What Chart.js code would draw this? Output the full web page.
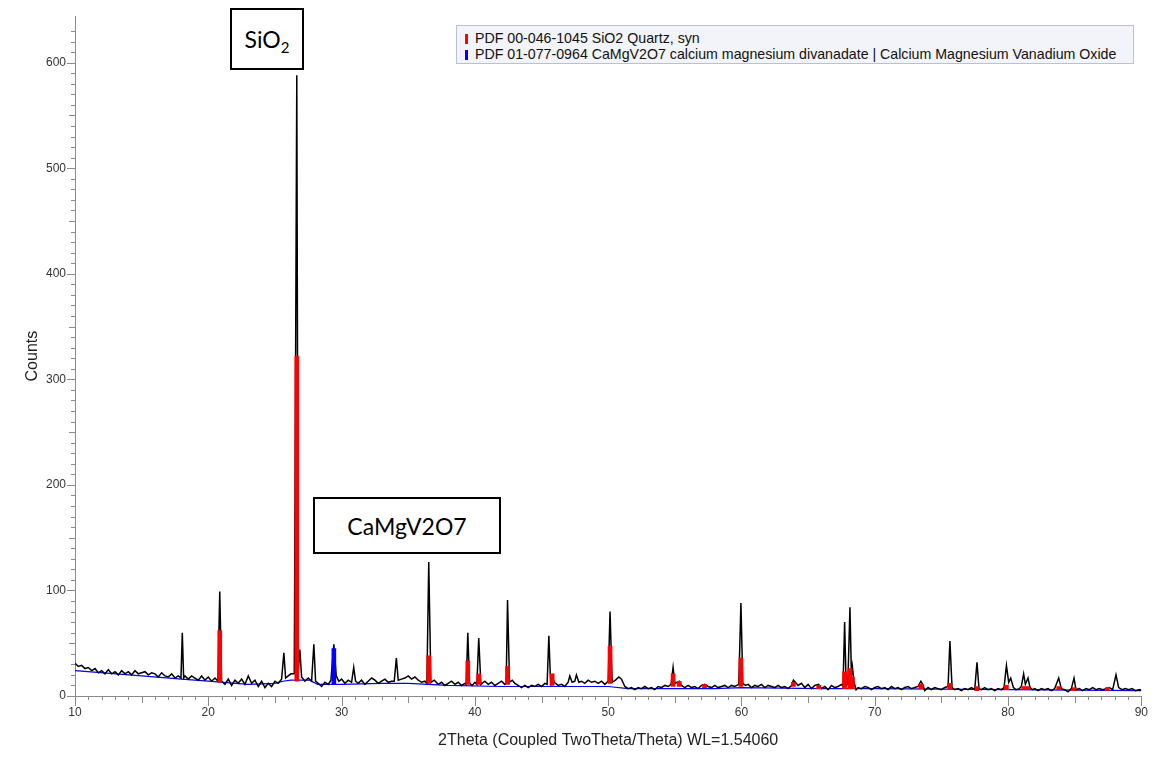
<!DOCTYPE html>
<html>
<head>
<meta charset="utf-8">
<title>XRD pattern</title>
<script src="https://cdn.jsdelivr.net/npm/chart.js@4.4.1/dist/chart.umd.min.js"></script>
<style>
  html, body { margin: 0; padding: 0; background: #fff; }
  #wrap { position: relative; width: 1157px; height: 774px; overflow: hidden;
          font-family: "Liberation Sans", Arial, sans-serif; }
  #xrd { position: absolute; left: 0; top: 0; }
  .phase-legend { position: absolute; left: 456px; top: 25px; width: 678px; height: 39px;
                  box-sizing: border-box; border: 1px solid #b7c1d8; background: #f3f4f9; }
  .phase-legend .row { position: absolute; left: 8px; height: 15px; font-size: 14.2px;
                       line-height: 15px; color: #111; white-space: nowrap; }
  .phase-legend .swatch { display: inline-block; width: 3px; height: 10px; margin-right: 7px;
                          vertical-align: -1px; }
  .callout { position: absolute; box-sizing: border-box; border: 2px solid #000; background: #fff;
             color: #000; font-family: Lato, "Open Sans", sans-serif; font-size: 23px;
             display: flex; align-items: center; justify-content: center; }
  .callout sub { font-size: 15px; vertical-align: -5px; line-height: 0; }
</style>
</head>
<body>
<div id="wrap">
  <canvas id="xrd" width="1157" height="774"></canvas>
  <div class="phase-legend" id="phaseLegend"></div>
  <div class="callout" style="left:230px; top:8px; width:74px; height:62px;"><span>SiO<sub>2</sub></span></div>
  <div class="callout" style="left:313px; top:497px; width:188px; height:57px;"><span>CaMgV2O7</span></div>
</div>
<script>
// Measured scan: [2θ (deg), counts]
const measured = [
  [10.00,31],[10.25,28],[10.50,29],[10.75,26],[11.00,27],[11.25,24],[11.50,26],[11.75,22],
  [12.00,24],[12.25,21],[12.50,25],[12.75,21],[13.00,23],[13.25,20],[13.50,24],[13.75,21],
  [14.00,23],[14.25,20],[14.50,24],[14.75,21],[15.00,22],[15.25,23],[15.50,20],[15.75,22],
  [16.00,21],[16.25,18],[16.50,22],[16.75,19],[17.00,18],[17.25,21],[17.50,17],[17.75,19],
  [17.95,17],[18.05,60],[18.15,17],[18.25,19],[18.50,16],[18.75,19],[19.00,17],[19.25,15],
  [19.50,19],[19.75,15],[20.00,18],[20.25,14],[20.50,17],[20.72,14],[20.86,99],[21.00,14],
  [21.25,11],[21.50,16],[21.75,10],[22.00,15],[22.25,12],[22.50,16],[22.75,11],[23.00,19],
  [23.25,12],[23.50,15],[23.75,9],[24.00,14],[24.25,8],[24.50,12],[24.75,9],[25.00,14],
  [25.25,12],[25.50,16],[25.67,41],[25.80,17],[26.00,19],[26.20,21],[26.45,21],[26.64,588],
  [26.75,23],[26.87,44],[27.00,18],[27.25,14],[27.50,17],[27.75,14],[27.92,49],[28.05,14],
  [28.25,12],[28.50,9],[28.75,13],[29.00,11],[29.20,15],[29.42,49],[29.60,19],[29.80,14],
  [30.00,16],[30.25,12],[30.50,15],[30.75,13],[30.91,27],[31.05,14],[31.25,12],[31.50,15],
  [31.75,11],[32.00,14],[32.25,17],[32.50,15],[32.75,12],[33.00,14],[33.25,16],[33.50,13],
  [33.75,14],[33.95,14],[34.11,36],[34.25,15],[34.50,16],[34.75,17],[35.00,19],[35.25,16],
  [35.50,18],[35.75,15],[36.00,13],[36.25,14],[36.40,12],[36.54,127],[36.70,13],[36.95,15],
  [37.25,11],[37.50,13],[37.75,10],[38.00,12],[38.25,14],[38.50,11],[38.75,13],[39.00,10],
  [39.25,12],[39.35,11],[39.47,60],[39.60,12],[39.80,10],[40.00,13],[40.15,11],[40.29,55],
  [40.45,11],[40.75,14],[41.00,11],[41.25,13],[41.50,10],[41.75,12],[42.00,14],[42.25,11],
  [42.35,12],[42.45,91],[42.60,13],[42.80,15],[43.00,12],[43.25,10],[43.50,8],[43.75,10],
  [44.00,8],[44.25,10],[44.50,9],[44.75,11],[45.00,9],[45.25,12],[45.42,11],[45.55,57],
  [45.68,13],[45.80,19],[45.95,13],[46.25,10],[46.50,11],[46.75,9],[47.00,13],[47.12,19],
  [47.30,13],[47.50,14],[47.62,20],[47.80,13],[48.00,14],[48.25,12],[48.50,15],[48.75,13],
  [49.00,14],[49.25,12],[49.50,14],[49.75,11],[50.00,14],[50.14,80],[50.30,13],[50.55,15],
  [50.80,18],[51.00,16],[51.25,9],[51.50,7],[51.75,8],[52.00,6],[52.25,8],[52.50,7],
  [52.75,9],[53.00,7],[53.25,8],[53.50,6],[53.75,9],[54.00,8],[54.25,10],[54.50,9],
  [54.72,11],[54.87,27],[55.00,12],[55.33,14],[55.50,10],[55.75,8],[56.00,10],[56.25,8],
  [56.50,9],[56.75,7],[57.00,10],[57.25,11],[57.50,9],[57.75,8],[58.00,10],[58.25,8],
  [58.50,9],[58.75,10],[59.00,8],[59.25,10],[59.50,9],[59.80,11],[59.96,88],[60.10,12],
  [60.30,10],[60.50,11],[60.75,8],[61.00,10],[61.25,9],[61.50,11],[61.75,8],[62.00,10],
  [62.25,9],[62.50,8],[62.75,10],[63.00,8],[63.25,9],[63.50,7],[63.75,10],[63.90,15],
  [64.05,13],[64.25,10],[64.50,12],[64.75,8],[65.00,11],[65.25,7],[65.50,10],[65.79,11],
  [66.00,7],[66.25,9],[66.50,6],[66.75,10],[67.00,8],[67.25,9],[67.50,11],[67.62,9],
  [67.74,70],[67.85,12],[67.98,11],[68.14,84],[68.25,19],[68.32,28],[68.45,13],[68.60,6],
  [68.75,8],[69.00,7],[69.25,9],[69.50,8],[69.75,6],[70.00,8],[70.25,9],[70.50,7],
  [70.75,8],[71.00,6],[71.25,9],[71.50,7],[71.75,8],[72.00,6],[72.25,8],[72.50,9],
  [72.75,7],[73.00,8],[73.25,9],[73.46,14],[73.60,11],[73.75,5],[74.00,8],[74.25,6],
  [74.50,8],[74.75,7],[75.00,6],[75.25,8],[75.50,9],[75.64,52],[75.80,8],[76.00,6],
  [76.25,7],[76.50,5],[76.75,7],[77.00,6],[77.25,8],[77.50,6],[77.67,32],[77.82,7],
  [78.00,6],[78.25,8],[78.50,6],[78.75,7],[79.00,5],[79.25,7],[79.50,6],[79.70,8],
  [79.88,29],[80.05,13],[80.20,17],[80.40,8],[80.60,6],[80.85,7],[81.00,9],[81.17,21],
  [81.30,11],[81.50,17],[81.65,8],[81.85,6],[82.00,7],[82.25,5],[82.50,7],[82.75,6],
  [83.00,7],[83.25,5],[83.50,7],[83.80,17],[84.00,7],[84.25,6],[84.50,4],[84.75,7],
  [84.95,17],[85.10,6],[85.35,7],[85.60,5],[85.85,7],[86.10,6],[86.35,8],[86.60,6],
  [86.85,7],[87.10,6],[87.35,7],[87.60,8],[87.85,6],[88.10,20],[88.30,8],[88.55,6],
  [88.80,7],[89.05,6],[89.30,7],[89.55,5],[89.80,6],[90.00,6]
];

// Fitted background under the scan: [2θ, counts]
const backgroundCurve = [
  [10,24],[15,19],[18,16],[20,14],[23,11],[25,12],[25.6,14],[26.2,15],[27.6,15],[28.2,11],
  [30,11],[33,12],[35,12],[38,10],[42,9],[46,9],[50,9],[51.5,7],[58,7],[60,8],[66,7],
  [70,7],[80,6],[90,5]
];

// Reference stick patterns: [2θ, stick base, stick top]
const quartzSticks = [
  [20.86,13,62],[26.64,14,322],[36.54,12,38],[39.47,11,33],[40.29,11,21],[42.45,11,28],
  [45.80,10,21],[50.14,12,47],[54.87,9,21],[55.33,9,14],[57.23,8,11],[59.96,9,36],
  [63.90,9,13],[65.79,7,10],[67.74,7,23],[68.14,7,26],[68.32,7,18],[73.46,7,11],
  [75.64,6,12],[77.67,5,9],[79.88,6,10],[81.17,6,9],[81.50,6,9],[83.80,6,9],
  [84.95,5,8],[87.45,5,8]
];
const vanadateSticks = [
  [29.42,11,45]
];

const phaseNames = [
  'PDF 00-046-1045 SiO2 Quartz, syn',
  'PDF 01-077-0964 CaMgV2O7 calcium magnesium divanadate | Calcium Magnesium Vanadium Oxide'
];
const phaseColors = ['#ff0000', '#0000ff'];

const xTitle = '2Theta (Coupled TwoTheta/Theta) WL=1.54060';
const yTitle = 'Counts';

// phase legend box
const legendBox = document.getElementById('phaseLegend');
phaseNames.forEach((name, i) => {
  const row = document.createElement('div');
  row.className = 'row';
  row.style.top = (5 + i * 16) + 'px';
  const sw = document.createElement('span');
  sw.className = 'swatch';
  sw.style.background = phaseColors[i];
  row.appendChild(sw);
  row.appendChild(document.createTextNode(name));
  legendBox.appendChild(row);
});

const axisColor = '#8a8a8a';
const isMultiple = (v, m) => Math.abs(v - Math.round(v / m) * m) < 1e-6;

// draws the graded tick marks (long at labels, medium at halves, short otherwise)
const gradedTicks = {
  id: 'gradedTicks',
  afterDraw(chart) {
    const { ctx, scales: { x, y } } = chart;
    ctx.save();
    ctx.strokeStyle = axisColor;
    ctx.lineWidth = 1;
    ctx.beginPath();
    x.ticks.forEach(t => {
      const v = t.value;
      if (!isMultiple(v, 1)) return;
      const len = isMultiple(v, 10) ? 10 : isMultiple(v, 5) ? 7 : 4;
      const px = Math.round(x.getPixelForValue(v)) + 0.5;
      ctx.moveTo(px, x.top);
      ctx.lineTo(px, x.top + len);
    });
    y.ticks.forEach(t => {
      const v = t.value;
      if (!isMultiple(v, 10)) return;
      const len = isMultiple(v, 100) ? 8 : isMultiple(v, 50) ? 6 : 4;
      const py = Math.round(y.getPixelForValue(v)) + 0.5;
      ctx.moveTo(y.right - len, py);
      ctx.lineTo(y.right, py);
    });
    ctx.stroke();
    ctx.restore();
  }
};

const toPoints = arr => arr.map(([x, y]) => ({ x, y }));
const toSticks = arr => arr.map(([x, lo, hi]) => ({ x, y: [lo, hi] }));

Chart.defaults.font.family = '"Liberation Sans", Arial, sans-serif';

new Chart(document.getElementById('xrd'), {
  type: 'bar',
  data: {
    datasets: [
      {
        type: 'bar', label: phaseNames[0], data: toSticks(quartzSticks),
        backgroundColor: phaseColors[0], barThickness: 4, grouped: false, order: 0
      },
      {
        type: 'bar', label: phaseNames[1], data: toSticks(vanadateSticks),
        backgroundColor: phaseColors[1], barThickness: 4, grouped: false, order: 0
      },
      {
        type: 'line', label: 'Scan', data: toPoints(measured),
        borderColor: '#000', borderWidth: 1.5, pointRadius: 0, tension: 0, order: 1
      },
      {
        type: 'line', label: 'Background', data: toPoints(backgroundCurve),
        borderColor: phaseColors[1], borderWidth: 1.2, pointRadius: 0, tension: 0, order: 2
      }
    ]
  },
  options: {
    responsive: false,
    animation: false,
    devicePixelRatio: 1,
    layout: { padding: { left: 0, top: 13, right: 15, bottom: 0 } },
    plugins: { legend: { display: false }, tooltip: { enabled: false } },
    scales: {
      x: {
        type: 'linear', min: 10, max: 90, offset: false,
        grid: { display: true, drawOnChartArea: false, drawTicks: false },
        border: { display: true, color: axisColor, width: 1 },
        ticks: {
          stepSize: 1, autoSkip: false, maxRotation: 0, padding: 9,
          color: '#333', font: { size: 12 },
          callback: v => (isMultiple(v, 10) ? String(Math.round(v)) : '')
        },
        title: {
          display: true, text: xTitle, color: '#222', font: { size: 16 },
          padding: { top: 0, bottom: 24 }
        },
        afterFit: s => { s.height = 78; }
      },
      y: {
        type: 'linear', min: 0, max: 644,
        grid: { display: true, drawOnChartArea: false, drawTicks: false },
        border: { display: true, color: axisColor, width: 1 },
        ticks: {
          stepSize: 10, autoSkip: false, padding: 9,
          color: '#333', font: { size: 12 },
          callback: v => (isMultiple(v, 100) ? String(Math.round(v)) : '')
        },
        title: {
          display: true, text: yTitle, color: '#222', font: { size: 16 },
          padding: { top: 23, bottom: 0 }
        },
        afterFit: s => { s.width = 75; }
      }
    }
  },
  plugins: [gradedTicks]
});
</script>
</body>
</html>
